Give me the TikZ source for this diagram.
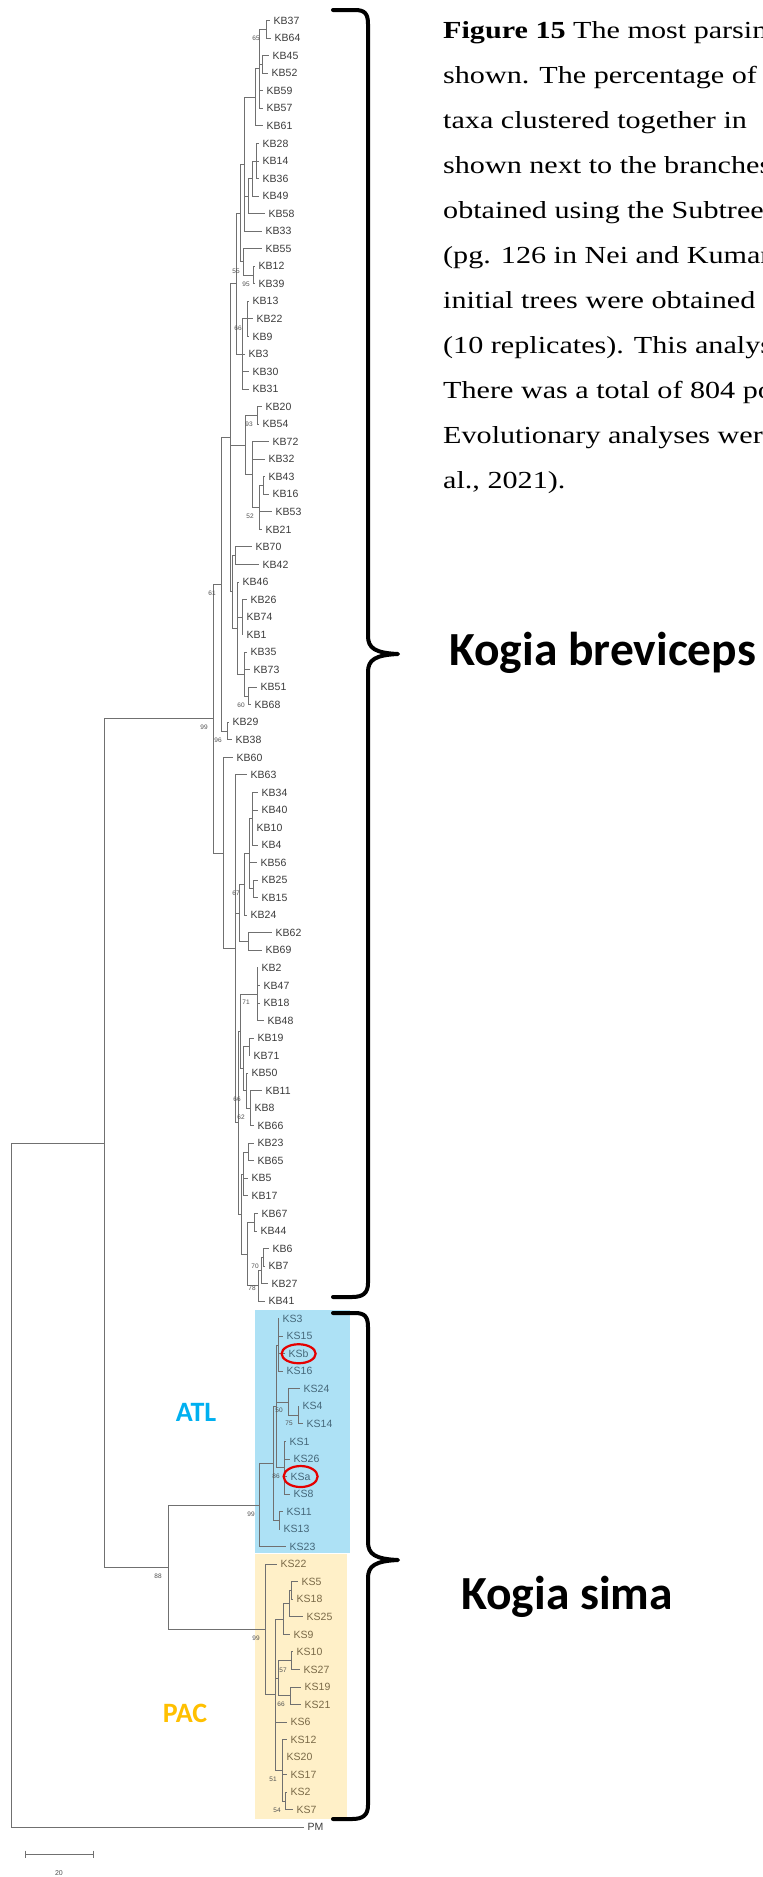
\documentclass[tikz,border=0pt]{standalone}
\usepackage{fontspec}
\newfontfamily\leaffont{Liberation Sans}
\newfontfamily\capfont{Liberation Serif}[FakeStretch=1.23]
\newfontfamily\calfont{Carlito}
\usetikzlibrary{calc}
\definecolor{brcol}{HTML}{707070}
\definecolor{leafcol}{HTML}{3C3C3C}
\definecolor{bscol}{HTML}{505050}
\definecolor{atlbox}{HTML}{ADE1F5}
\definecolor{pacbox}{HTML}{FFF0C8}
\definecolor{atltext}{HTML}{00B0F0}
\definecolor{pactext}{HTML}{FFC000}
\definecolor{atlleaf}{HTML}{46687A}
\definecolor{pacleaf}{HTML}{7A6A48}
\newcommand\tn[4]{\path let \p1=(#3), \p2=(#4) in coordinate (#1) at (#2pt,{0.5*\y1+0.5*\y2});}
\newcommand\kids[2]{\foreach \c in {#2}{\draw[branch] (#1) |- (\c);}}
\tikzset{
  branch/.style={draw=brcol, line width=0.9pt},
  leaf/.style={anchor=west, inner xsep=3.5pt, inner ysep=0pt, text=leafcol, font=\leaffont\fontsize{10.5}{12}\selectfont},
  bs/.style={text=bscol, inner sep=0pt, font=\leaffont\fontsize{6.5}{7}\selectfont},
  capline/.style={anchor=base west, inner sep=0pt, font=\capfont\fontsize{24.5}{28}\selectfont},
  bracepath/.style={draw=black, line width=4pt, line cap=round, line join=round},
  redring/.style={draw=red!90!black, line width=2.2pt},
  species/.style={anchor=west, inner sep=0pt, font=\calfont\bfseries\fontsize{47.5}{50}\selectfont},
}
\begin{document}
\begin{tikzpicture}[x=1pt,y=-1pt]
\useasboundingbox (0,0) rectangle (763,1877);
\clip (0,0) rectangle (763,1877);
\fill[white] (0,0) rectangle (763,1877);
% coloured boxes
\fill[atlbox] (255,1310) rectangle (350,1553);
\fill[pacbox] (255,1554) rectangle (347,1819);
% leaves
\foreach \i/\lab/\lx in {0/KB37/274,1/KB64/275,2/KB45/273,3/KB52/272,4/KB59/267,5/KB57/267,6/KB61/267,7/KB28/263,8/KB14/263,9/KB36/263,10/KB49/263,11/KB58/269,12/KB33/266,13/KB55/266,14/KB12/259,15/KB39/259,16/KB13/253,17/KB22/257,18/KB9/253,19/KB3/249,20/KB30/253,21/KB31/253,22/KB20/266,23/KB54/263,24/KB72/273,25/KB32/269,26/KB43/269,27/KB16/273,28/KB53/276,29/KB21/266,30/KB70/256,31/KB42/263,32/KB46/243,33/KB26/251,34/KB74/247,35/KB1/247,36/KB35/251,37/KB73/254,38/KB51/261,39/KB68/255,40/KB29/233,41/KB38/236,42/KB60/237,43/KB63/251,44/KB34/262,45/KB40/262,46/KB10/257,47/KB4/262,48/KB56/261,49/KB25/262,50/KB15/262,51/KB24/251,52/KB62/276,53/KB69/266,54/KB2/262,55/KB47/264,56/KB18/264,57/KB48/268,58/KB19/258,59/KB71/254,60/KB50/252,61/KB11/266,62/KB8/255,63/KB66/258,64/KB23/258,65/KB65/258,66/KB5/252,67/KB17/252,68/KB67/262,69/KB44/261,70/KB6/273,71/KB7/269,72/KB27/272,73/KB41/269,103/PM/308}{
  \coordinate (t\i) at (\lx-4, 20.7+17.54*\i);
  \node[leaf] (L\i) at (t\i) {\lab};
}
\foreach \i/\lab/\lx in {74/KS3/283,75/KS15/287,76/KSb/289,77/KS16/287,78/KS24/304,79/KS4/303,80/KS14/307,81/KS1/290,82/KS26/294,83/KSa/291,84/KS8/294,85/KS11/287,86/KS13/284,87/KS23/290}{
  \coordinate (t\i) at (\lx-4, 20.7+17.54*\i);
  \node[leaf, text=atlleaf] (L\i) at (t\i) {\lab};
}
\foreach \i/\lab/\lx in {88/KS22/281,89/KS5/302,90/KS18/297,91/KS25/307,92/KS9/294,93/KS10/297,94/KS27/304,95/KS19/305,96/KS21/305,97/KS6/291,98/KS12/291,99/KS20/287,100/KS17/291,101/KS2/291,102/KS7/297}{
  \coordinate (t\i) at (\lx-4, 20.7+17.54*\i);
  \node[leaf, text=pacleaf] (L\i) at (t\i) {\lab};
}
% Kogia breviceps clade
\tn{A}{266}{t0}{t1} \kids{A}{t0,t1}
\tn{B}{262}{t2}{t3} \kids{B}{t2,t3}
\tn{C}{259}{A}{t5} \kids{C}{A,B,t4,t5}
\tn{D}{255}{C}{t6} \kids{D}{C,t6}
\tn{E}{256}{t7}{t9} \kids{E}{t7,t8,t9}
\tn{F}{252}{E}{t10} \kids{F}{E,t10}
\tn{G}{248}{F}{t11} \kids{G}{F,t11}
\tn{H}{244}{D}{t12} \kids{H}{D,G,t12}
\tn{I}{253}{t14}{t15} \kids{I}{t14,t15}
\tn{J}{243}{t13}{I} \kids{J}{t13,I}
\tn{K}{240}{H}{J} \kids{K}{H,J}
\tn{L}{247}{t16}{t18} \kids{L}{t16,t17,t18}
\tn{M}{242}{L}{t21} \kids{M}{L,t19,t20,t21}
\tn{N}{236}{K}{M} \kids{N}{K,M}
\tn{O}{257}{t22}{t23} \kids{O}{t22,t23}
\tn{Q}{263}{t26}{t27} \kids{Q}{t26,t27}
\tn{QQ}{259}{Q}{t29} \kids{QQ}{Q,t28,t29}
\tn{P}{252}{t24}{QQ} \kids{P}{t24,t25,QQ}
\tn{S}{245}{O}{P} \kids{S}{O,P}
\tn{VA}{235}{t30}{t31} \kids{VA}{t30,t31}
\tn{WA}{242}{t33}{t35} \kids{WA}{t33,t34,t35}
\tn{WB}{248}{t38}{t39} \kids{WB}{t38,t39}
\tn{WC}{244}{t36}{WB} \kids{WC}{t36,t37,WB}
\tn{WD}{237}{t32}{WC} \kids{WD}{t32,WA,WC}
\tn{V}{232}{VA}{WD} \kids{V}{VA,WD}
\tn{Y}{230}{N}{V} \kids{Y}{N,S,V}
\tn{XX}{227}{t40}{t41} \kids{XX}{t40,t41}
\tn{XS}{221}{Y}{XX} \kids{XS}{Y,XX}
\tn{AA}{252}{t44}{t47} \kids{AA}{t44,t45,t46,t47}
\tn{AB}{253}{t49}{t50} \kids{AB}{t49,t50}
\tn{AC}{249}{AA}{AB} \kids{AC}{AA,t48,AB}
\tn{AD}{244}{AC}{t51} \kids{AD}{AC,t51}
\tn{AE}{248}{t52}{t53} \kids{AE}{t52,t53}
\tn{AF}{239}{AD}{AE} \kids{AF}{AD,AE}
\tn{CA}{257}{t54}{t57} \kids{CA}{t54,t55,t56,t57}
\tn{CB}{249}{t58}{t59} \kids{CB}{t58,t59}
\tn{CC}{250}{t61}{t63} \kids{CC}{t61,t62,t63}
\tn{CD}{246}{t60}{CC} \kids{CD}{t60,CC}
\tn{CE}{243}{CB}{CD} \kids{CE}{CB,CD}
\tn{CF}{240}{CA}{CE} \kids{CF}{CA,CE}
\tn{DA}{248}{t64}{t65} \kids{DA}{t64,t65}
\tn{DB}{243}{DA}{t67} \kids{DB}{DA,t66,t67}
\tn{EA}{263}{t70}{t71} \kids{EA}{t70,t71}
\tn{EB}{261}{EA}{t72} \kids{EB}{EA,t72}
\tn{EC}{258}{EB}{t73} \kids{EC}{EB,t73}
\tn{ED}{254}{t68}{t69} \kids{ED}{t68,t69}
\tn{EE}{247}{ED}{EC} \kids{EE}{ED,EC}
\tn{FF}{241}{DB}{EE} \kids{FF}{DB,EE}
\tn{BB}{238}{CF}{FF} \kids{BB}{CF,FF}
\tn{W}{235}{t43}{BB} \kids{W}{t43,AF,BB}
\tn{Z}{223}{t42}{W} \kids{Z}{t42,W}
\tn{R}{213}{XS}{Z} \kids{R}{XS,Z}
% Kogia sima clade
\tn{hh}{278}{t74}{t77} \kids{hh}{t74,t75,t76,t77}
\tn{ii}{298}{t79}{t80} \kids{ii}{t79,t80}
\tn{jj}{288}{t78}{ii} \kids{jj}{t78,ii}
\tn{ll}{284}{t81}{t84} \kids{ll}{t81,t82,t83,t84}
\tn{mm}{279}{t85}{t86} \kids{mm}{t85,t86}
\tn{gb}{276}{hh}{ll} \kids{gb}{hh,jj,ll}
\tn{ga}{273}{gb}{mm} \kids{ga}{gb,mm}
\tn{atl}{259}{ga}{t87} \kids{atl}{ga,t87}
\tn{uu}{291}{t89}{t90} \kids{uu}{t89,t90}
\tn{tt}{289}{uu}{t91} \kids{tt}{uu,t91}
\tn{rr}{283}{tt}{t92} \kids{rr}{tt,t92}
\tn{vv}{291}{t93}{t94} \kids{vv}{t93,t94}
\tn{ww}{290}{t95}{t96} \kids{ww}{t95,t96}
\tn{xa}{278}{vv}{ww} \kids{xa}{vv,ww}
\tn{ya}{285}{t101}{t102} \kids{ya}{t101,t102}
\tn{yb}{282}{t98}{ya} \kids{yb}{t98,t99,t100,ya}
\tn{qq}{275}{rr}{yb} \kids{qq}{rr,xa,t97,yb}
\tn{pac}{265}{t88}{qq} \kids{pac}{t88,qq}
\tn{ks}{168}{atl}{pac} \kids{ks}{atl,pac}
\tn{top}{104}{R}{ks} \kids{top}{R,ks}
\tn{root}{11}{top}{t103} \kids{root}{top,t103}
% bootstrap values
\foreach \n/\bx/\by/\v in {b1/256/38/65,b2/236/271/55,b3/246/284/95,b4/238/328/66,b5/249/424/93,b6/250/516/52,b7/212/593/61,b8/241/705/60,b9/204/727/99,b10/218/740/96,b11/236/893/67,b12/246/1002/71,b13/237/1099/66,b14/241/1117/62,b15/255/1266/70,b16/252/1288/78,b17/279/1410/50,b18/289/1423/75,b19/276/1476/86,b20/251/1514/99,b21/158/1576/88,b22/256/1638/99,b23/283/1670/57,b24/281/1704/66,b25/273/1779/51,b26/277/1810/54}{
  \node[bs] (\n) at (\bx,\by) {\v};
}
% red rings
\draw[redring] (L76.center) ellipse [x radius=17pt, y radius=9.5pt];
\draw[redring] (L83.center) ellipse [x radius=17pt, y radius=10.5pt];
% group labels
\node[anchor=center, text=atltext, font=\calfont\bfseries\fontsize{28}{30}\selectfont] (atllab) at (196,1412) {ATL};
\node[anchor=center, text=pactext, font=\calfont\bfseries\fontsize{28}{30}\selectfont] (paclab) at (185,1713) {PAC};
% braces
\coordinate (ub1) at (333,10);
\coordinate (ubtip) at (398,654);
\coordinate (ub2) at (333,1297);
\draw[bracepath] (ub1) -- (355,10) .. controls (365,10) and (368,14) .. (368,24) -- (368,636) .. controls (368,648) and (375,653) .. (ubtip) .. controls (375,655) and (368,660) .. (368,672) -- (368,1283) .. controls (368,1293) and (363,1297) .. (352,1297) -- (ub2);
\coordinate (lb1) at (333,1313);
\coordinate (lbtip) at (398,1560);
\coordinate (lb2) at (333,1819);
\draw[bracepath] (lb1) -- (355,1313) .. controls (365,1313) and (368,1317) .. (368,1327) -- (368,1542) .. controls (368,1554) and (375,1559) .. (lbtip) .. controls (375,1561) and (368,1566) .. (368,1578) -- (368,1805) .. controls (368,1815) and (363,1819) .. (352,1819) -- (lb2);
% species labels
\node[species] (kbrev) at (449,653) {Kogia breviceps};
\node[species] (ksima) at (461,1597) {Kogia sima};
% scale bar
\coordinate (sb1) at (25,1854);
\coordinate (sb2) at (93,1854);
\draw[branch] (sb1) -- (sb2);
\draw[branch] ($(sb1)+(0,-3.5)$) -- ($(sb1)+(0,3.5)$);
\draw[branch] ($(sb2)+(0,-3.5)$) -- ($(sb2)+(0,3.5)$);
\node[bs, font=\leaffont\fontsize{7}{8}\selectfont] (sblab) at (59,1873) {20};
% caption
\node[capline] (c1) at (443,38) {\textbf{Figure 15} The most parsimonious};
\node[capline] (c2) at (443,83) {shown. The percentage of};
\node[capline] (c3) at (443,128) {taxa clustered together in};
\node[capline] (c4) at (443,173) {shown next to the branches};
\node[capline] (c5) at (443,218) {obtained using the Subtree};
\node[capline] (c6) at (443,263) {(pg. 126 in Nei and Kumar};
\node[capline] (c7) at (443,308) {initial trees were obtained};
\node[capline] (c8) at (443,353) {(10 replicates). This analysis};
\node[capline] (c9) at (443,398) {There was a total of 804 positions};
\node[capline] (c10) at (443,443) {Evolutionary analyses were};
\node[capline] (c11) at (443,488) {al., 2021).};
\end{tikzpicture}
\end{document}
